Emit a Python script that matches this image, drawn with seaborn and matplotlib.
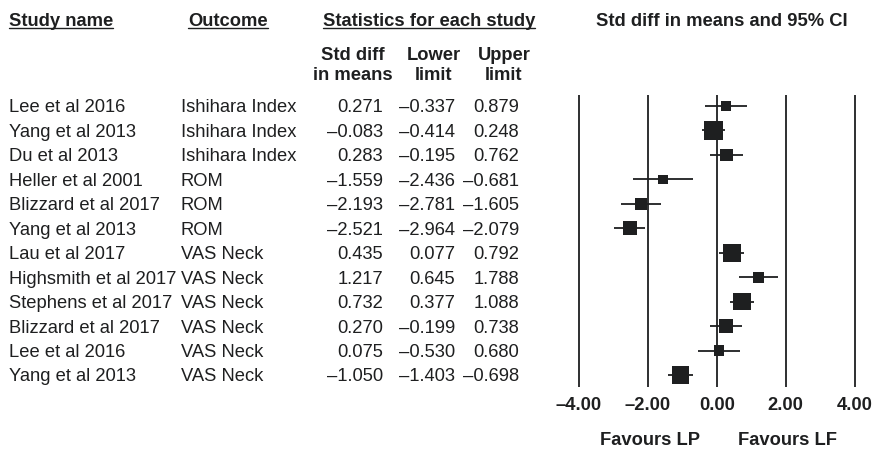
import matplotlib
matplotlib.use("Agg")
import matplotlib.pyplot as plt
from matplotlib.lines import Line2D
import pandas as pd
import seaborn as sns

# ---- data -------------------------------------------------------------
studies = ["Lee et al 2016", "Yang et al 2013", "Du et al 2013", "Heller et al 2001",
           "Blizzard et al 2017", "Yang et al 2013", "Lau et al 2017",
           "Highsmith et al 2017", "Stephens et al 2017", "Blizzard et al 2017",
           "Lee et al 2016", "Yang et al 2013"]
outcomes = ["Ishihara Index", "Ishihara Index", "Ishihara Index", "ROM", "ROM", "ROM",
            "VAS Neck", "VAS Neck", "VAS Neck", "VAS Neck", "VAS Neck", "VAS Neck"]
std_diff = [0.271, -0.083, 0.283, -1.559, -2.193, -2.521, 0.435, 1.217, 0.732, 0.270, 0.075, -1.050]
lower = [-0.337, -0.414, -0.195, -2.436, -2.781, -2.964, 0.077, 0.645, 0.377, -0.199, -0.530, -1.403]
upper = [0.879, 0.248, 0.762, -0.681, -1.605, -2.079, 0.792, 1.788, 1.088, 0.738, 0.680, -0.698]
# relative study weights (%), box area is proportional to weight
weights = [4.2, 15.0, 6.7, 3.9, 6.3, 7.8, 13.0, 5.0, 13.0, 7.8, 4.2, 13.0]
x_ticks = [-4, -2, 0, 2, 4]
favours = ["Favours LP", "Favours LF"]

df = pd.DataFrame({"study": studies, "outcome": outcomes, "est": std_diff,
                   "lo": lower, "hi": upper, "weight": weights})
df["row"] = range(len(df))

# ---- style ------------------------------------------------------------
W, H = 876, 449
sns.set_theme(style="white")
plt.rcParams["font.family"] = ["Liberation Sans", "DejaVu Sans"]
INK = "#1e1f20"
FS = 13.2
LW = 1.3

fig = plt.figure(figsize=(W / 100, H / 100), dpi=100)


def fx(px):
    return px / W


def fy(py):
    return 1 - py / H


def fmt(v):
    s = f"{v:.3f}"
    return s.replace("-", "\u2013")


ROW0, ROW_STEP = 106, 24.45

# ---- forest panel -----------------------------------------------------
x_lo, x_hi = -4.55, 4.45
px_per_unit = 34.5
ax_left = 716.7 + x_lo * px_per_unit
ax_top, ax_bot = 95, 387
ax = fig.add_axes([fx(ax_left), fy(ax_bot), (x_hi - x_lo) * px_per_unit / W, (ax_bot - ax_top) / H])

for t in x_ticks:
    ax.axvline(t, color=INK, lw=LW, zorder=1)

ax.hlines(df["row"], df["lo"], df["hi"], color=INK, lw=LW, zorder=2)

max_side_pt = 19 * 0.72
sns.scatterplot(data=df, x="est", y="row", size="weight",
                sizes=(0, max_side_pt ** 2), size_norm=(0, max(weights)),
                marker="s", color=INK, linewidth=0, legend=False, ax=ax, zorder=3)

ax.set_xlim(x_lo, x_hi)
ax.set_ylim(11 + (ax_bot - (ROW0 + 11 * ROW_STEP)) / ROW_STEP, -(ROW0 - ax_top) / ROW_STEP)
ax.set_xticks(x_ticks)
ax.set_xticklabels([f"{t:.2f}".replace("-", "\u2013") for t in x_ticks],
                   fontsize=FS, fontweight="bold", color=INK)
ax.tick_params(axis="x", length=0, pad=7.5)
ax.set_yticks([])
ax.set_xlabel("")
ax.set_ylabel("")
for sp in ax.spines.values():
    sp.set_visible(False)
ax.patch.set_alpha(0)

# ---- table columns ----------------------------------------------------
for i, r in df.iterrows():
    yb = fy(ROW0 + i * ROW_STEP + 6.5)
    fig.text(fx(9), yb, r["study"], ha="left", va="baseline", fontsize=FS, color=INK)
    fig.text(fx(181), yb, r["outcome"], ha="left", va="baseline", fontsize=FS, color=INK)
    fig.text(fx(383), yb, fmt(r["est"]), ha="right", va="baseline", fontsize=FS, color=INK)
    fig.text(fx(455), yb, fmt(r["lo"]), ha="right", va="baseline", fontsize=FS, color=INK)
    fig.text(fx(519), yb, fmt(r["hi"]), ha="right", va="baseline", fontsize=FS, color=INK)

# ---- headers ----------------------------------------------------------
underlined = []
underlined.append(fig.text(fx(9), fy(26), "Study name", ha="left", va="baseline",
                           fontsize=FS, fontweight="bold", color=INK))
underlined.append(fig.text(fx(188), fy(26), "Outcome", ha="left", va="baseline",
                           fontsize=FS, fontweight="bold", color=INK))
underlined.append(fig.text(fx(323), fy(26), "Statistics for each study", ha="left", va="baseline",
                           fontsize=FS, fontweight="bold", color=INK))
fig.text(fx(722), fy(26), "Std diff in means and 95% CI", ha="center", va="baseline",
         fontsize=FS, fontweight="bold", color=INK)

for cx, l1, l2 in [(353, "Std diff", "in means"), (434, "Lower", "limit"), (504, "Upper", "limit")]:
    fig.text(fx(cx), fy(60), l1, ha="center", va="baseline", fontsize=FS, fontweight="bold", color=INK)
    fig.text(fx(cx), fy(80), l2, ha="center", va="baseline", fontsize=FS, fontweight="bold", color=INK)

for cx, lab in zip([650, 788], favours):
    fig.text(fx(cx), fy(445), lab, ha="center", va="baseline", fontsize=FS, fontweight="bold", color=INK)

renderer = fig.canvas.get_renderer()
for t in underlined:
    bb = t.get_window_extent(renderer)
    fig.add_artist(Line2D([bb.x0 / W, bb.x1 / W], [fy(27.8), fy(27.8)],
                          transform=fig.transFigure, color=INK, lw=1.0))

fig.savefig("out.png", dpi=100)
